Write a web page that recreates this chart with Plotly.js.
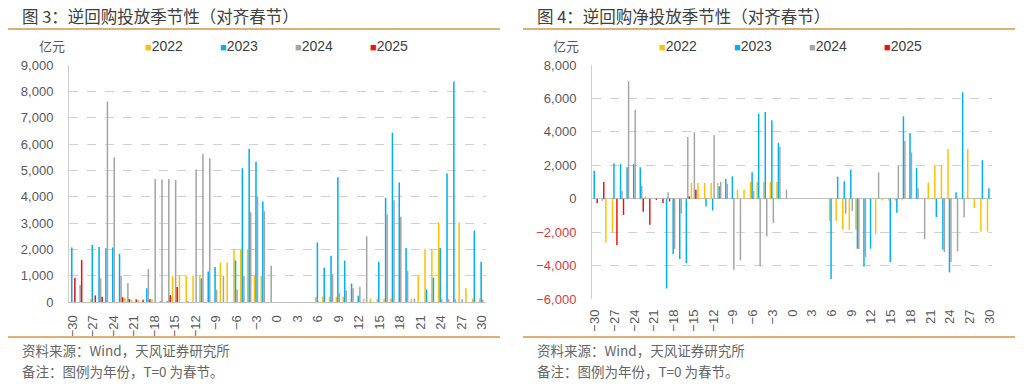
<!DOCTYPE html>
<html><head><meta charset="utf-8">
<script src="https://cdn.plot.ly/plotly-3.0.1.min.js"></script>
<style>html,body{margin:0;padding:0;background:#fff}#chart{width:1024px;height:386px}</style>
</head><body><div id="chart"></div>
<script>
// Days relative to Spring Festival (T=0)
const days = [-30,-29,-28,-27,-26,-25,-24,-23,-22,-21,-20,-19,-18,-17,-16,-15,-14,-13,-12,-11,-10,-9,-8,-7,-6,-5,-4,-3,-2,-1,0,1,2,3,4,5,6,7,8,9,10,11,12,13,14,15,16,17,18,19,20,21,22,23,24,25,26,27,28,29,30];
const years = ['2022','2023','2024','2025'];
const colors = ['#FFC000','#00B0F0','#A5A5A5','#EE1111'];

// Figure 3: reverse repo injection (亿元)
const inj2022 = [0,0,0,110,0,0,0,0,150,80, 80,0,100,0,0,1000,1000,1000,1000,1000, 0,0,1500,1500,2000,2000,2000,1000,1000,0, 0,0,0,0,0,0,200,200,200,200, 200,0,0,130,130,130,130,130,0,0, 130,1000,2000,2000,3020,0,0,3020,520,130,130];
const inj2023 = [2070,0,0,2170,2090,2040,2070,1830,0,0, 0,520,0,30,30,0,0,30,0,890, 1160,1330,0,0,1580,5080,5820,5330,3820,0, 0,0,0,0,0,0,2260,1300,1760,4740, 1570,700,240,0,0,1530,3960,6430,4540,2050, 0,0,470,920,2050,4880,8370,0,0,2710,1520];
const inj2024 = [0,650,0,0,900,7610,5490,1000,720,0, 0,1250,4670,4650,4670,4630,0,0,5030,5630, 5460,470,1000,0,470,1000,3410,4000,3450,1380, 0,0,0,0,0,0,0,0,1060,340, 440,520,580,2490,0,0,3320,3860,3240,1190, 130,0,0,0,100,100,100,100,0,0,100];
const inj2025 = [910,1600,0,250,200,0,0,180,120,100, 90,100,0,0,260,570,null,null,null,null, null,null,null,null,null,null,null,null,null,null, null,null,null,null,null,null,null,null,null,null, null,null,null,null,null,null,null,null,null,null, null,null,null,null,null,null,null,null,null,null,null];

// Figure 4: reverse repo net injection (亿元)
const net2022 = [0,0,-2620,-2000,0,0,0,0,140,0, 0,0,0,0,0,940,940,940,940,940, 0,0,540,540,1000,1000,1000,1000,1000,0, 0,0,0,0,0,0,-1340,-1340,-1860,-1860, -1860,0,0,-2120,-100,-100,-100,-100,0,0, 0,960,2000,2000,2970,0,0,2970,-560,-1960,-1960];
const net2023 = [1680,0,0,2100,2080,1880,2080,1880,0,0, 0,-5370,-3330,-3610,-3850,0,0,-460,-700,740, 1180,1340,0,0,1580,5090,5190,4690,3340,0, 0,0,0,0,0,0,-4810,1320,1040,1740, -2990,-4050,-2990,0,0,-3790,-840,4930,3930,1840, 0,0,-1100,-3050,-4410,380,6370,0,0,2300,620];
const net2024 = [0,-120,0,0,460,7030,5330,780,0,0, 0,380,-3000,-900,3690,3970,0,0,3810,1000, 880,-4250,-3690,0,460,-4050,-2250,-1460,3100,540, 0,0,0,0,0,0,0,0,-900,-740, -3010,-3490,0,1580,0,0,1980,3450,2770,620, -2420,0,0,-3200,-3790,-3150,-1120,0,0,0,0];
const net2025 = [-260,1000,0,-2780,-980,0,0,-780,-1560,-80, -250,-160,0,0,140,540,null,null,null,null, null,null,null,null,null,null,null,null,null,null, null,null,null,null,null,null,null,null,null,null, null,null,null,null,null,null,null,null,null,null, null,null,null,null,null,null,null,null,null,null,null];

// Tick labels
const yTicks1 = [0,1000,2000,3000,4000,5000,6000,7000,8000,9000];
const yLabels1 = ['0','1,000','2,000','3,000','4,000','5,000','6,000','7,000','8,000','9,000'];
const yTicks2 = [-6000,-4000,-2000,0,2000,4000,6000,8000];
const yLabels2 = ['−6,000','−4,000','−2,000','0','2,000','4,000','6,000','8,000'];

const title1 = '图 3：逆回购投放季节性（对齐春节）';
const title2 = '图 4：逆回购净投放季节性（对齐春节）';
const unitText = '亿元';
const source = '资料来源：Wind，天风证券研究所';
const note = '备注：图例为年份，T=0 为春节。';

const W = 1024, H = 386;
const px = v => v / W;
const py = v => 1 - v / H;
const FONT = 'Liberation Sans, Arial, Noto Sans CJK SC, sans-serif';
const CJK = 'Noto Sans CJK SC, sans-serif';

const traces = [];
[inj2022, inj2023, inj2024, inj2025].forEach((ys, i) => traces.push({
  type: 'bar', x: days, y: ys, name: years[i], xaxis: 'x', yaxis: 'y',
  marker: {color: colors[i], line: {width: 0}}, showlegend: false, hoverinfo: 'skip'
}));
[net2022, net2023, net2024, net2025].forEach((ys, i) => traces.push({
  type: 'bar', x: days, y: ys, name: years[i], xaxis: 'x2', yaxis: 'y2',
  marker: {color: colors[i], line: {width: 0}}, showlegend: false, hoverinfo: 'skip'
}));

const tickFont = {family: FONT, size: 13, color: '#595959'};
const xCommon = {
  tickmode: 'linear', tick0: 0, dtick: 3, tickangle: -90, tickfont: tickFont,
  showgrid: false, zeroline: false, ticks: '', ticklabelstandoff: 7, fixedrange: true
};
const yCommon = {
  tickmode: 'array', tickfont: tickFont, showgrid: true, gridcolor: '#D0D0D0',
  griddash: 'dash', gridwidth: 1, showline: true, linecolor: '#D0D0D0', linewidth: 1,
  ticks: '', ticklabelstandoff: 12, fixedrange: true
};

const layout = {
  width: W, height: H,
  margin: {l: 0, r: 0, t: 0, b: 0, pad: 0},
  paper_bgcolor: '#ffffff', plot_bgcolor: '#ffffff',
  barmode: 'group', bargap: 0.1, bargroupgap: 0,
  showlegend: false, hovermode: false,
  font: {family: FONT},
  xaxis: Object.assign({}, xCommon, {
    domain: [px(69), px(486)], range: [-30.52, 30.6], anchor: 'y',
    showline: true, linecolor: '#BFBFBF', linewidth: 1
  }),
  yaxis: Object.assign({}, yCommon, {
    domain: [py(302), py(65)], range: [0, 9000], anchor: 'x',
    tickvals: yTicks1, ticktext: yLabels1, zeroline: false
  }),
  xaxis2: Object.assign({}, xCommon, {
    domain: [px(592), px(992)], range: [-30.45, 30.35], anchor: 'y2', showline: false
  }),
  yaxis2: Object.assign({}, yCommon, {
    domain: [py(299), py(65)], range: [-6000, 8000], anchor: 'x2',
    tickvals: yTicks2,
    ticktext: yLabels2.map((t, i) => yTicks2[i] < 0 ? `<span style="color:#E03A3A">${t}</span>` : t),
    zeroline: true, zerolinecolor: '#BFBFBF', zerolinewidth: 1
  }),
  shapes: [
    {type: 'line', xref: 'paper', yref: 'paper', x0: px(8), x1: px(500), y0: py(29), y1: py(29), line: {color: '#E2AE74', width: 2}},
    {type: 'line', xref: 'paper', yref: 'paper', x0: px(523), x1: px(1015), y0: py(29), y1: py(29), line: {color: '#E2AE74', width: 2}},
    {type: 'line', xref: 'paper', yref: 'paper', x0: px(8), x1: px(500), y0: py(337), y1: py(337), line: {color: '#E2AE74', width: 2}},
    {type: 'line', xref: 'paper', yref: 'paper', x0: px(523), x1: px(1015), y0: py(337), y1: py(337), line: {color: '#E2AE74', width: 2}}
  ],
  annotations: []
};

const ann = (text, x, y, size, color, family) => ({
  text, xref: 'paper', yref: 'paper', x: px(x), y: py(y), xanchor: 'left', yanchor: 'middle',
  showarrow: false, font: {family: family || FONT, size, color}
});
layout.annotations.push(ann(title1, 20, 16, 16.5, '#404040', CJK));
layout.annotations.push(ann(title2, 535, 16, 16.5, '#404040', CJK));
layout.annotations.push(ann(unitText, 37, 46, 13, '#595959', CJK));
layout.annotations.push(ann(unitText, 551, 46, 13, '#595959', CJK));
[143, 657].forEach(x0 => {
  years.forEach((yr, i) => {
    layout.annotations.push(ann(`<span style="color:${colors[i]};font-size:11px">■</span>${yr}`, x0 + 75 * i, 46, 14, '#404040'));
  });
});
layout.annotations.push(ann(source, 20, 350, 13.5, '#666666', CJK));
layout.annotations.push(ann(note, 20, 371, 13.5, '#666666', CJK));
layout.annotations.push(ann(source, 535, 350, 13.5, '#666666', CJK));
layout.annotations.push(ann(note, 535, 371, 13.5, '#666666', CJK));

Plotly.newPlot('chart', traces, layout, {staticPlot: true, displayModeBar: false});
</script></body></html>
